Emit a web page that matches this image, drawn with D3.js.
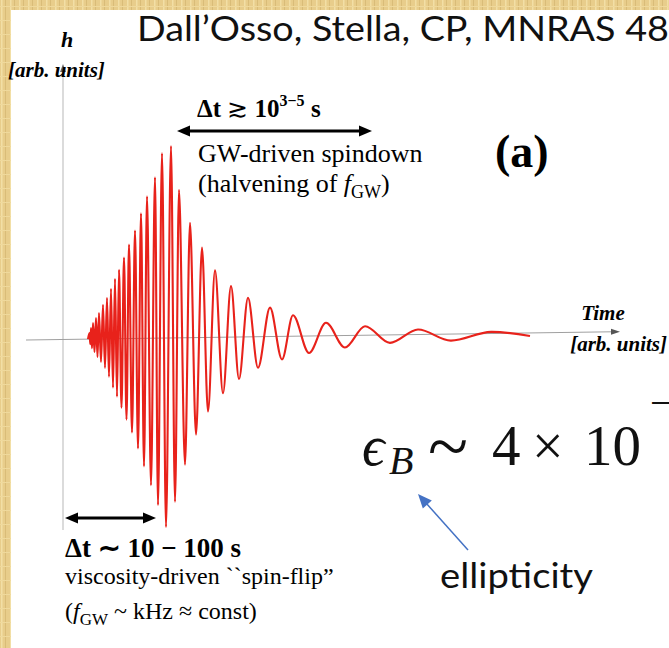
<!DOCTYPE html>
<html>
<head>
<meta charset="utf-8">
<script src="https://cdn.jsdelivr.net/npm/d3@7"></script>
<style>
  body { margin: 0; background: #fff; }
  svg { display: block; }
</style>
</head>
<body>
<svg id="chart"></svg>
<script>
const W = 669, H = 648;

// waveform extrema (time and h in arbitrary units)
const waveTime = [25, 26.5, 27.3, 28, 29, 30, 31.5, 33, 34.5, 36, 38, 40, 42, 44, 46, 48, 50, 52, 54,
  56, 58.5, 61, 63.5, 66, 69, 72, 75, 78, 81, 84, 88, 92, 95, 99, 103, 108, 112, 116, 122, 127,
  133, 139, 145, 152, 160, 168, 176, 185, 195, 207, 219, 230, 246, 263, 282, 302, 327, 355, 388, 428, 467];
const waveH = [0, 0.03, -0.025, 0.055, -0.045, 0.08, -0.065, 0.105, -0.09, 0.13, -0.115, 0.17, -0.145,
  0.205, -0.19, 0.25, -0.245, 0.3, -0.29, 0.345, -0.345, 0.405, -0.405, 0.47, -0.47, 0.54, -0.55,
  0.625, -0.64, 0.71, -0.735, 0.805, -0.835, 0.925, -0.945, 0.96, -0.82, 0.74, -0.635, 0.575, -0.485,
  0.45, -0.37, 0.335, -0.28, 0.255, -0.21, 0.195, -0.155, 0.145, -0.115, 0.105, -0.085, 0.065, -0.06,
  0.045, -0.04, 0.025, -0.033, 0.008, -0.015];

const timeDomain = [-37, 557];
const hDomain = [-1, 1];

const svg = d3.select("#chart").attr("width", W).attr("height", H);

// parchment border
const defs = svg.append("defs");
const pat = defs.append("pattern").attr("id", "parch")
  .attr("patternUnits", "userSpaceOnUse").attr("width", 9).attr("height", 14);
pat.append("rect").attr("width", 9).attr("height", 14).attr("fill", "#e8cd8b");
pat.append("rect").attr("x", 1).attr("width", 1.5).attr("height", 14).attr("fill", "#f2dfa6");
pat.append("rect").attr("x", 5).attr("width", 1).attr("height", 14).attr("fill", "#d9bc78");
pat.append("rect").attr("y", 6).attr("width", 9).attr("height", 1).attr("fill", "#efd99c");

svg.append("rect").attr("width", W).attr("height", H).attr("fill", "url(#parch)");
svg.append("rect").attr("x", 11).attr("y", 10).attr("width", W - 11).attr("height", H - 10)
  .attr("fill", "#fff");

const x = d3.scaleLinear().domain(timeDomain).range([26, 620]);
const y = d3.scaleLinear().domain(hDomain).range([540, 140]);

function arrowHead(g, tx, ty, angle, len, wid, color) {
  g.append("path")
    .attr("d", `M0,0 L${-len},${-wid / 2} L${-len},${wid / 2} Z`)
    .attr("transform", `translate(${tx},${ty}) rotate(${angle})`)
    .attr("fill", color);
}

// vertical axis
const vx = x(0);
svg.append("line").attr("x1", vx).attr("x2", vx).attr("y1", 530).attr("y2", 70)
  .attr("stroke", "#cfcfcf").attr("stroke-width", 1.5);
arrowHead(svg, vx, 64, -90, 8, 6, "#666");

// tilted time axis + waveform
const plot = svg.append("g")
  .attr("transform", "translate(26,340) skewY(-0.8) translate(-26,-340)");
plot.append("line").attr("x1", x(timeDomain[0])).attr("x2", x(timeDomain[1]) - 6)
  .attr("y1", y(0)).attr("y2", y(0)).attr("stroke", "#a0a0a0").attr("stroke-width", 1.1);
arrowHead(plot, x(timeDomain[1]), y(0), 0, 9, 6, "#555");

const wave = waveTime.map((t, i) => ({ t: t, h: waveH[i] }));
plot.append("path")
  .datum(wave)
  .attr("fill", "none")
  .attr("stroke", "#e8221b")
  .attr("stroke-width", 2.1)
  .attr("stroke-linejoin", "round")
  .attr("d", d3.line().x(d => x(d.t)).y(d => y(d.h)).curve(d3.curveMonotoneX));

// double arrows
function dblArrow(x1, x2, yy) {
  svg.append("line").attr("x1", x1 + 8).attr("x2", x2 - 8).attr("y1", yy).attr("y2", yy)
    .attr("stroke", "#000").attr("stroke-width", 3);
  arrowHead(svg, x1, yy, 180, 13, 11, "#000");
  arrowHead(svg, x2, yy, 0, 13, 11, "#000");
}
dblArrow(177, 372, 131);
dblArrow(65, 156, 518);

const serif = "'Liberation Serif', 'Times New Roman', serif";
const sans = "Lato, 'Open Sans', sans-serif";

// title
svg.append("text").attr("x", 137).attr("y", 41)
  .attr("font-family", sans).attr("font-size", 34).attr("fill", "#111")
  .attr("textLength", 532).attr("lengthAdjust", "spacingAndGlyphs")
  .text("Dall’Osso, Stella, CP, MNRAS 48");

// axis labels
svg.append("text").attr("x", 67).attr("y", 47).attr("text-anchor", "middle")
  .attr("font-family", serif).attr("font-size", 22).attr("font-weight", "bold")
  .attr("font-style", "italic").text("h");
svg.append("text").attr("x", 8).attr("y", 77)
  .attr("font-family", serif).attr("font-size", 21).attr("font-weight", "bold")
  .attr("font-style", "italic").text("[arb. units]");
svg.append("text").attr("x", 603).attr("y", 320).attr("text-anchor", "middle")
  .attr("font-family", serif).attr("font-size", 21).attr("font-weight", "bold")
  .attr("font-style", "italic").text("Time");
svg.append("text").attr("x", 667).attr("y", 351).attr("text-anchor", "end")
  .attr("font-family", serif).attr("font-size", 21).attr("font-weight", "bold")
  .attr("font-style", "italic").text("[arb. units]");

// upper annotation
const t1 = svg.append("text").attr("x", 197).attr("y", 117)
  .attr("font-family", serif).attr("font-size", 25).attr("font-weight", "bold");
t1.append("tspan").text("Δt ");
t1.append("tspan").attr("font-weight", "normal").text("≳");
t1.append("tspan").text(" 10");
t1.append("tspan").attr("font-size", 16).attr("dy", -11).text("3−5");
t1.append("tspan").attr("dy", 11).text(" s");

svg.append("text").attr("x", 198).attr("y", 162)
  .attr("font-family", serif).attr("font-size", 26).text("GW-driven spindown");
const t2 = svg.append("text").attr("x", 198).attr("y", 192)
  .attr("font-family", serif).attr("font-size", 26);
t2.append("tspan").text("(halvening of ");
t2.append("tspan").attr("font-style", "italic").text("f");
t2.append("tspan").attr("font-size", 18).attr("dy", 6).text("GW");
t2.append("tspan").attr("dy", -6).text(")");

svg.append("text").attr("x", 495).attr("y", 167)
  .attr("font-family", serif).attr("font-size", 46).attr("font-weight", "bold").text("(a)");

// lower annotation
svg.append("text").attr("x", 65).attr("y", 557)
  .attr("font-family", serif).attr("font-size", 27).attr("font-weight", "bold")
  .text("Δt ∼ 10 − 100 s");
svg.append("text").attr("x", 65).attr("y", 584)
  .attr("font-family", serif).attr("font-size", 24).text("viscosity-driven ``spin-flip”");
const t3 = svg.append("text").attr("x", 65).attr("y", 619)
  .attr("font-family", serif).attr("font-size", 24);
t3.append("tspan").text("(");
t3.append("tspan").attr("font-style", "italic").text("f");
t3.append("tspan").attr("font-size", 17).attr("dy", 6).text("GW");
t3.append("tspan").attr("dy", -6).text(" ~ kHz ≈ const)");

// ellipticity formula
const big = svg.append("g").attr("font-family", serif).attr("fill", "#111");
big.append("text").attr("x", 362).attr("y", 465).attr("font-size", 56).attr("font-style", "italic").text("ϵ");
big.append("text").attr("x", 389).attr("y", 474).attr("font-size", 40).attr("font-style", "italic").text("B");
big.append("text").attr("x", 428).attr("y", 471).attr("font-size", 74).text("~");
big.append("text").attr("x", 492).attr("y", 465).attr("font-size", 57).text("4");
big.append("text").attr("x", 532).attr("y", 465).attr("font-size", 56).text("×");
big.append("text").attr("x", 584).attr("y", 465).attr("font-size", 57).text("10");
big.append("text").attr("x", 650).attr("y", 416).attr("font-size", 40).text("−");

// blue pointer
svg.append("line").attr("x1", 468).attr("y1", 550).attr("x2", 426).attr("y2", 503)
  .attr("stroke", "#4472c4").attr("stroke-width", 1.5);
arrowHead(svg, 418, 494, Math.atan2(494 - 550, 418 - 468) * 180 / Math.PI, 14, 12, "#4472c4");

svg.append("text").attr("x", 440).attr("y", 588)
  .attr("font-family", sans).attr("font-size", 34).attr("fill", "#111")
  .attr("textLength", 153).attr("lengthAdjust", "spacingAndGlyphs")
  .text("ellipticity");
</script>
</body>
</html>
